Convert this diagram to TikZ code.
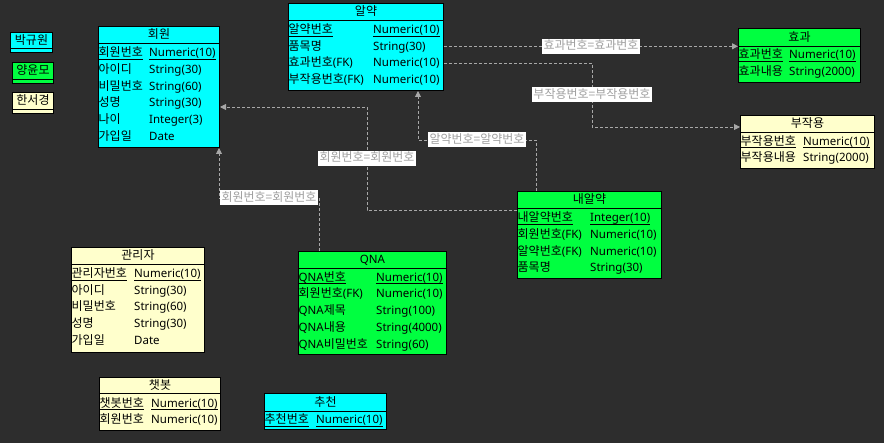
\documentclass[tikz,border=0pt]{standalone}
\usepackage{fontspec}
\setmainfont{Noto Sans CJK KR}
\newfontfamily\latfam{Noto Sans}
\newcommand\lat{\latfam\fontsize{11.5pt}{13pt}\selectfont}
\usetikzlibrary{arrows.meta}
\definecolor{bg}{HTML}{2D2D2D}
\definecolor{ecyan}{HTML}{00FFFF}
\definecolor{egreen}{HTML}{00FF40}
\definecolor{eyellow}{HTML}{FFFFCC}
\definecolor{relgray}{HTML}{A8A8A8}
\definecolor{lblgray}{HTML}{A0A0A0}
\newcommand\fs{\fontsize{12pt}{13pt}\selectfont}
\tikzset{
  entbox/.style={draw=black, line width=1pt, anchor=north west, inner sep=0, rectangle},
  entline/.style={draw=black, line width=1pt},
  hd/.style={font=\fs, inner sep=0, text height=10pt, text depth=2pt},
  att/.style={font=\fs, inner sep=0, anchor=west, text height=10pt, text depth=2pt},
  ul/.style={draw=black, line width=0.8pt},
  rel/.style={draw=relgray, line width=0.9pt, dash pattern=on 3pt off 2pt, -{Triangle[length=6pt,width=6pt]}},
  lbl/.style={fill=white, text=lblgray, font=\fs, inner xsep=1.5pt, inner ysep=1.5pt, text height=9.5pt, text depth=2.5pt}
}
\newcommand\ERent[8]{%
  \node[entbox, fill=#2, minimum width=#5pt, minimum height=#6pt] (#1) at (#3,#4) {};
  \draw[entline] ([yshift=-#7pt]#1.north west) -- ([yshift=-#7pt]#1.north east);
  \node[hd] (#1-h) at ([yshift=-#7pt/2]#1.north) {#8};
}
\newcommand\ERrow[6]{%
  \node[att, xshift=0.5pt] (#1-a#2) at (#1.west |- 0,#3) {#5};
  \node[att, font=\lat] (#1-b#2) at (#4,#3) {#6};
}
\newcommand\ERpk[6]{%
  \ERrow{#1}{#2}{#3}{#4}{#5}{#6}
  \draw[ul] ([yshift=-0.3pt]#1-a#2.south west) -- ([yshift=-0.3pt]#1-a#2.south east);
  \draw[ul] ([yshift=-0.3pt]#1-b#2.south west) -- ([yshift=-0.3pt]#1-b#2.south east);
}
\begin{document}
\begin{tikzpicture}[x=1pt, y=-1pt]
\fill[bg] (0,0) rectangle (884,443);
\useasboundingbox (0,0) rectangle (884,443);

% legend
\ERent{lga}{ecyan}{10}{32}{42}{20}{17}{박규원}
\ERent{lgb}{egreen}{12}{62}{41}{21}{18}{양윤모}
\ERent{lgc}{eyellow}{12}{92}{41}{21}{18}{한서경}

% 회원
\ERent{hw}{ecyan}{98}{26}{121}{121}{18}{회원}
\ERpk{hw}{1}{52.7}{149}{회원번호}{Numeric(10)}
\ERrow{hw}{2}{69.5}{149}{아이디}{String(30)}
\ERrow{hw}{3}{86.3}{149}{비밀번호}{String(60)}
\ERrow{hw}{4}{103}{149}{성명}{String(30)}
\ERrow{hw}{5}{119.8}{149}{나이}{Integer(3)}
\ERrow{hw}{6}{136.6}{149}{가입일}{Date}

% 알약
\ERent{yak}{ecyan}{288}{3}{155}{87}{18}{알약}
\ERpk{yak}{1}{29.5}{373}{알약번호}{Numeric(10)}
\ERrow{yak}{2}{46.3}{373}{품목명}{String(30)}
\ERrow{yak}{3}{63}{373}{효과번호{\lat(FK)}}{Numeric(10)}
\ERrow{yak}{4}{79.8}{373}{부작용번호{\lat(FK)}}{Numeric(10)}

% 효과
\ERent{hyo}{egreen}{738}{28}{122}{54}{19}{효과}
\ERpk{hyo}{1}{54.5}{789}{효과번호}{Numeric(10)}
\ERrow{hyo}{2}{71.3}{789}{효과내용}{String(2000)}

% 부작용
\ERent{bu}{eyellow}{740}{115}{134}{53}{18}{부작용}
\ERpk{bu}{1}{141.3}{803}{부작용번호}{Numeric(10)}
\ERrow{bu}{2}{158}{803}{부작용내용}{String(2000)}

% 관리자
\ERent{adm}{eyellow}{71}{247}{133}{105}{18}{관리자}
\ERpk{adm}{1}{273.5}{134}{관리자번호}{Numeric(10)}
\ERrow{adm}{2}{290.3}{134}{아이디}{String(30)}
\ERrow{adm}{3}{307}{134}{비밀번호}{String(60)}
\ERrow{adm}{4}{323.8}{134}{성명}{String(30)}
\ERrow{adm}{5}{340.5}{134}{가입일}{Date}

% QNA
\ERent{qna}{egreen}{298}{251}{148}{103}{18}{{\lat QNA}}
\ERpk{qna}{1}{277.3}{376}{{\lat QNA}번호}{Numeric(10)}
\ERrow{qna}{2}{294}{376}{회원번호{\lat(FK)}}{Numeric(10)}
\ERrow{qna}{3}{310.8}{376}{{\lat QNA}제목}{String(100)}
\ERrow{qna}{4}{327.5}{376}{{\lat QNA}내용}{String(4000)}
\ERrow{qna}{5}{344.3}{376}{{\lat QNA}비밀번호}{String(60)}

% 내알약
\ERent{nae}{egreen}{517}{191}{144}{87}{18}{내알약}
\ERpk{nae}{1}{217.7}{590}{내알약번호}{Integer(10)}
\ERrow{nae}{2}{234.5}{590}{회원번호{\lat(FK)}}{Numeric(10)}
\ERrow{nae}{3}{251.2}{590}{알약번호{\lat(FK)}}{Numeric(10)}
\ERrow{nae}{4}{268}{590}{품목명}{String(30)}

% 챗봇
\ERent{chat}{eyellow}{99}{377}{121}{53}{17}{챗봇}
\ERpk{chat}{1}{403.3}{151}{챗봇번호}{Numeric(10)}
\ERrow{chat}{2}{420}{151}{회원번호}{Numeric(10)}

% 추천
\ERent{rec}{ecyan}{264}{393}{122}{36}{19}{추천}
\ERpk{rec}{1}{420}{316}{추천번호}{Numeric(10)}

% relationships
\draw[rel] (yak.east |- yak-a2) -- node[lbl]{효과번호=효과번호} (hyo.west |- yak-a2);

\coordinate (k2) at (592,127);
\draw[rel] (yak.east |- yak-a3) -| node[lbl, pos=0.75]{부작용번호=부작용번호} (k2) -- (bu.west |- k2);

\coordinate (k3a) at (536,140);
\coordinate (k3b) at (418,140);
\draw[rel] (nae.north -| k3a) -- (k3a) -- node[lbl]{알약번호=알약번호} (k3b) -- (yak.south -| k3b);

\coordinate (k4a) at (367,210);
\coordinate (k4b) at (367,107);
\draw[rel] (nae.west |- k4a) -- (k4a) -- node[lbl]{회원번호=회원번호} (k4b) -- (hw.east |- k4b);

\coordinate (k5a) at (319,198);
\coordinate (k5b) at (219,198);
\draw[rel] (qna.north -| k5a) -- (k5a) -- node[lbl]{회원번호=회원번호} (k5b) -- (hw.south -| k5b);
\end{tikzpicture}
\end{document}
